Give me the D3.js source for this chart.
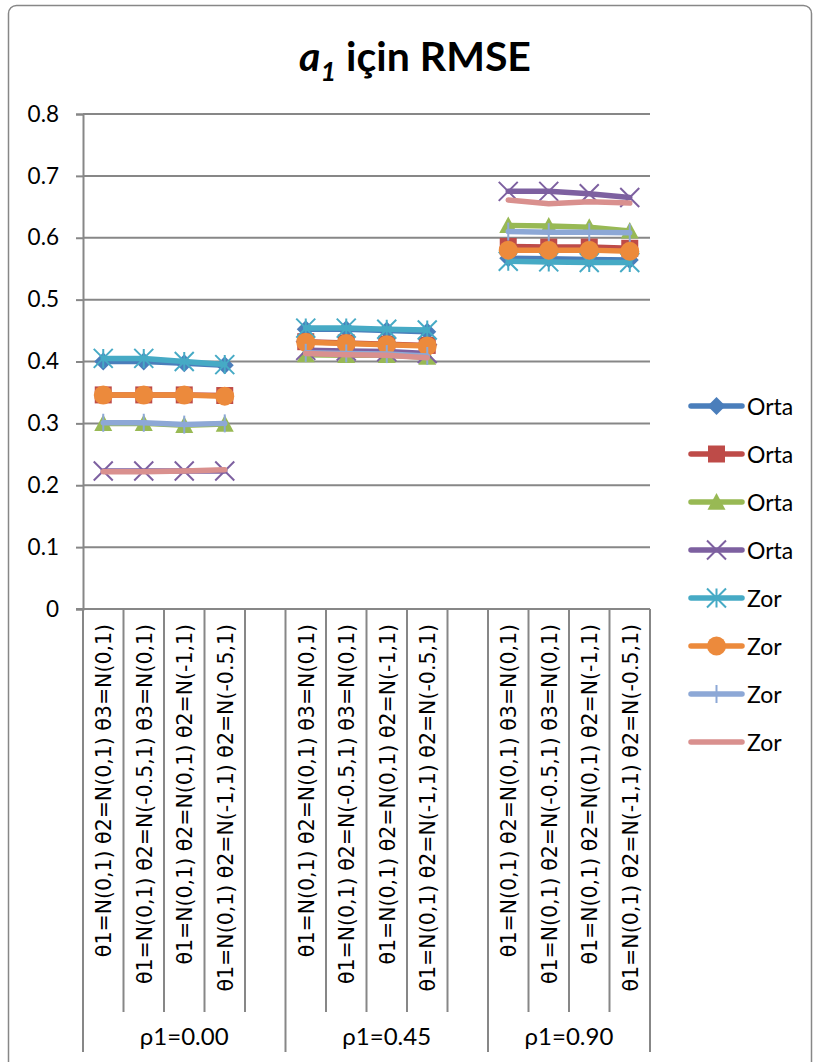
<!DOCTYPE html>
<html>
<head>
<meta charset="utf-8">
<script src="https://cdn.jsdelivr.net/npm/d3@7/dist/d3.min.js"></script>
<style>
  html, body { margin: 0; padding: 0; background: #fff; }
  svg { display: block; }
</style>
</head>
<body>
<svg id="chart" width="816" height="1062"></svg>
<script>
// Outer category level (correlation) and inner level (theta distributions)
const groups = ["ρ1=0.00", "ρ1=0.45", "ρ1=0.90"];
const conditions = [
  "θ1=N(0,1) θ2=N(0,1) θ3=N(0,1)",
  "θ1=N(0,1) θ2=N(-0.5,1) θ3=N(0,1)",
  "θ1=N(0,1) θ2=N(0,1) θ2=N(-1,1)",
  "θ1=N(0,1) θ2=N(-1,1) θ2=N(-0.5,1)"
];
const yTicks = [0, 0.1, 0.2, 0.3, 0.4, 0.5, 0.6, 0.7, 0.8];
const seriesNames = ["Orta", "Orta", "Orta", "Orta", "Zor", "Zor", "Zor", "Zor"];

// RMSE values, 4 conditions per group, groups in order
const orta1 = [0.400, 0.400, 0.397, 0.394,  0.452, 0.452, 0.450, 0.448,  0.567, 0.566, 0.565, 0.564];
const orta2 = [0.346, 0.346, 0.346, 0.345,  0.432, 0.430, 0.428, 0.426,  0.586, 0.585, 0.585, 0.583];
const orta3 = [0.300, 0.300, 0.297, 0.299,  0.411, 0.410, 0.410, 0.407,  0.620, 0.619, 0.617, 0.611];
const orta4 = [0.223, 0.223, 0.223, 0.223,  0.418, 0.417, 0.416, 0.413,  0.675, 0.675, 0.671, 0.665];
const zor1  = [0.405, 0.405, 0.400, 0.395,  0.454, 0.454, 0.452, 0.451,  0.562, 0.561, 0.560, 0.560];
const zor2  = [0.346, 0.346, 0.346, 0.344,  0.431, 0.429, 0.427, 0.425,  0.580, 0.580, 0.580, 0.578];
const zor3  = [0.301, 0.301, 0.298, 0.300,  0.414, 0.413, 0.412, 0.409,  0.610, 0.609, 0.609, 0.608];
const zor4  = [0.222, 0.222, 0.223, 0.225,  0.413, 0.411, 0.410, 0.406,  0.661, 0.655, 0.658, 0.656];

const seriesValues = [orta1, orta2, orta3, orta4, zor1, zor2, zor3, zor4];
const colors = ["#4A7EBB", "#BE4B48", "#98B954", "#7D60A0", "#46AAC5", "#EC8A3C", "#8DA8D6", "#D9908E"];
const markers = ["diamond", "square", "triangle", "x", "asterisk", "circle", "bar", "none"];

// Slots: each group has its 4 conditions followed by an empty slot (except the last)
const slots = [];
groups.forEach((g, gi) => {
  conditions.forEach((c, ci) => slots.push({ group: gi, cond: ci, label: c, idx: gi * 4 + ci }));
  if (gi < groups.length - 1) slots.push({ group: gi, cond: -1, label: "", idx: -1 });
});

const svg = d3.select("#chart");
const plot = { left: 83, right: 650, top: 114, bottom: 609 };
const grey = "#878787";
const font = "Lato, 'Open Sans', sans-serif";

const x = d3.scaleBand().domain(d3.range(slots.length)).range([plot.left, plot.right]).padding(0);
const y = d3.scaleLinear().domain([0, 0.8]).range([plot.bottom, plot.top]);

// Chart area frame
svg.append("rect")
  .attr("x", 8.5).attr("y", 5.5).attr("width", 803).attr("height", 1100)
  .attr("rx", 8).attr("fill", "none").attr("stroke", grey).attr("stroke-width", 1.5);

// Title
const title = svg.append("text")
  .attr("x", 415).attr("y", 71).attr("text-anchor", "middle")
  .attr("font-family", font).attr("font-weight", "bold").attr("font-size", 41).attr("fill", "#000");
title.append("tspan").attr("font-style", "italic").text("a");
title.append("tspan").attr("font-style", "italic").attr("font-size", 27).attr("dy", 10).text("1");
title.append("tspan").attr("dy", -10).text(" için RMSE");

// Horizontal gridlines
svg.append("g").selectAll("line").data(yTicks.slice(1)).join("line")
  .attr("x1", plot.left).attr("x2", plot.right)
  .attr("y1", d => y(d)).attr("y2", d => y(d))
  .attr("stroke", grey).attr("stroke-width", 2);

// Y axis
const yAxis = svg.append("g").attr("transform", `translate(${plot.left},0)`)
  .call(d3.axisLeft(y).tickValues(yTicks).tickSize(7).tickPadding(17)
    .tickFormat(d => d === 0 ? "0" : d3.format(".1f")(d)));
yAxis.select(".domain").attr("stroke", grey).attr("stroke-width", 2);
yAxis.selectAll(".tick line").attr("stroke", grey).attr("stroke-width", 2);
yAxis.selectAll(".tick text").attr("font-family", font).attr("font-size", 22.5).attr("fill", "#000");

// X axis baseline
svg.append("line").attr("x1", plot.left - 7).attr("x2", plot.right)
  .attr("y1", plot.bottom).attr("y2", plot.bottom)
  .attr("stroke", grey).attr("stroke-width", 2);

// Inner category dividers
const boundaries = d3.range(slots.length + 1).map(i => i < slots.length ? x(i) : plot.right);
const groupStarts = [];
slots.forEach((s, i) => { if (i === 0 || slots[i - 1].group !== s.group) groupStarts.push(i); });
const groupEdges = groupStarts.concat([slots.length]);
svg.append("g").selectAll("line").data(boundaries).join("line")
  .attr("x1", d => d).attr("x2", d => d)
  .attr("y1", plot.bottom).attr("y2", (d, i) => groupEdges.includes(i) ? 1052 : 1012)
  .attr("stroke", grey).attr("stroke-width", 2);

// Inner category labels (rotated)
svg.append("g").selectAll("text").data(slots.filter(s => s.label)).join("text")
  .attr("transform", (s) => `translate(${x(slots.indexOf(s)) + x.bandwidth() / 2 + 1},624) rotate(-90)`)
  .attr("text-anchor", "end").attr("dominant-baseline", "central")
  .attr("font-family", "'DejaVu Sans', sans-serif").attr("font-size", 20.5).attr("fill", "#000")
  .text(s => s.label);

// Group labels
svg.append("g").selectAll("text").data(groups).join("text")
  .attr("x", (g, gi) => (boundaries[groupEdges[gi]] + boundaries[groupEdges[gi + 1]]) / 2)
  .attr("y", 1035).attr("text-anchor", "middle").attr("dominant-baseline", "central")
  .attr("font-family", font).attr("font-size", 24).attr("fill", "#000")
  .text(g => g);

// Marker shapes
function markerPath(type, s) {
  const h = s / 2;
  switch (type) {
    case "diamond": return `M0,${-h}L${h},0L0,${h}L${-h},0Z`;
    case "square": return `M${-h},${-h}H${h}V${h}H${-h}Z`;
    case "triangle": return `M0,${-h}L${h},${h * 0.85}L${-h},${h * 0.85}Z`;
    case "x": return `M${-h},${-h}L${h},${h}M${h},${-h}L${-h},${h}`;
    case "asterisk": return `M${-h},${-h}L${h},${h}M${h},${-h}L${-h},${h}M0,${-h}V${h}`;
    case "bar": return `M0,${-h}V${h}`;
    default: return "";
  }
}
function drawMarker(g, type, color, cx, cy) {
  if (type === "none") return;
  if (type === "circle") {
    g.append("circle").attr("cx", cx).attr("cy", cy).attr("r", 9.5).attr("fill", color);
    return;
  }
  const stroked = type === "x" || type === "asterisk" || type === "bar";
  const size = { diamond: 18, square: 17, triangle: 18, x: 19, asterisk: 19, bar: 18 }[type];
  g.append("path").attr("d", markerPath(type, size))
    .attr("transform", `translate(${cx},${cy})`)
    .attr("fill", stroked ? "none" : color)
    .attr("stroke", stroked ? color : "none")
    .attr("stroke-width", stroked ? 2 : 0);
}

// Series lines and markers
const line = d3.line()
  .defined(d => d.v != null)
  .x(d => x(d.i) + x.bandwidth() / 2)
  .y(d => y(d.v));

seriesValues.forEach((vals, si) => {
  const pts = slots.map((s, i) => ({ i, v: s.idx >= 0 ? vals[s.idx] : null }));
  const g = svg.append("g");
  g.append("path").datum(pts).attr("d", line)
    .attr("fill", "none").attr("stroke", colors[si]).attr("stroke-width", 5.5)
    .attr("stroke-linejoin", "round").attr("stroke-linecap", "round");
  pts.filter(p => p.v != null).forEach(p => {
    drawMarker(g, markers[si], colors[si], x(p.i) + x.bandwidth() / 2, y(p.v));
  });
});

// Legend
const legend = svg.append("g");
seriesNames.forEach((name, si) => {
  const ly = 406 + si * 48;
  const g = legend.append("g");
  g.append("line").attr("x1", 691).attr("x2", 742).attr("y1", ly).attr("y2", ly)
    .attr("stroke", colors[si]).attr("stroke-width", 5.5).attr("stroke-linecap", "round");
  drawMarker(g, markers[si], colors[si], 716.5, ly);
  g.append("text").attr("x", 747).attr("y", ly).attr("dominant-baseline", "central")
    .attr("font-family", font).attr("font-size", 23).attr("fill", "#000").text(name);
});
</script>
</body>
</html>
